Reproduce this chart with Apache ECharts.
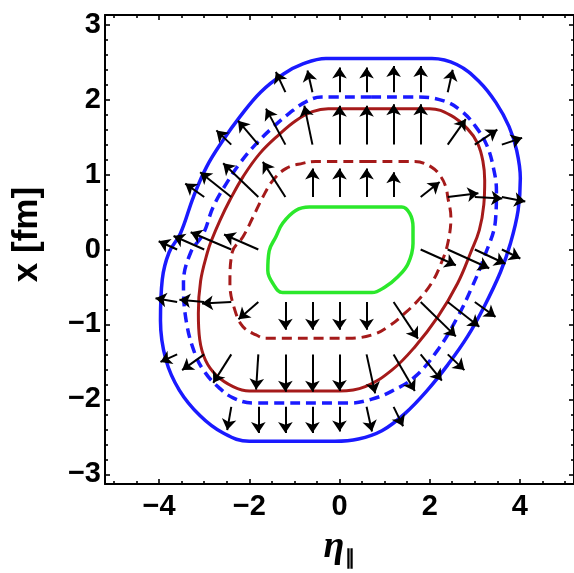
<!DOCTYPE html>
<html>
<head>
<meta charset="utf-8">
<script src="https://cdn.jsdelivr.net/npm/echarts@6/dist/echarts.min.js"></script>
<style>
  html, body { margin: 0; padding: 0; background: #ffffff; }
  #chart { width: 574px; height: 573px; }
</style>
</head>
<body>
<div id="chart"></div>
<script>
// Axis ranges and tick positions
const etaRange = [-5.2, 5.2];
const xRange = [-3.13, 3.13];
const etaMajorTicks = [-4, -2, 0, 2, 4];
const etaMinorTicks = [-5, -4.5, -3.5, -3, -2.5, -1.5, -1, -0.5, 0.5, 1, 1.5, 2.5, 3, 3.5, 4.5, 5];
const xMajorTicks = [-3, -2, -1, 0, 1, 2, 3];
const xMinorTicks = [-2.8, -2.6, -2.4, -2.2, -1.8, -1.6, -1.4, -1.2, -0.8, -0.6, -0.4, -0.2,
                     0.2, 0.4, 0.6, 0.8, 1.2, 1.4, 1.6, 1.8, 2.2, 2.4, 2.6, 2.8];

// Closed contours [eta, x], each starting and ending on its flat top edge
const blueSolid = [
  [0.90, 2.55], [2.05, 2.55], [2.60, 2.47], [3.10, 2.24],
  [3.47, 1.96], [3.76, 1.64], [3.93, 1.32], [4.01, 0.95], [3.96, 0.52],
  [3.79, 0.08], [3.57, -0.30], [3.21, -0.76], [2.84, -1.16], [2.40, -1.54], [1.96, -1.87],
  [1.45, -2.19], [0.94, -2.42], [0.42, -2.53], [-0.10, -2.56], [-2.00, -2.56], [-2.58, -2.45],
  [-3.09, -2.22], [-3.55, -1.88], [-3.85, -1.47], [-3.97, -0.95], [-3.93, -0.40], [-3.78, -0.04],
  [-3.53, 0.21], [-3.24, 0.70], [-2.95, 1.10], [-2.58, 1.46], [-2.21, 1.77], [-1.75, 2.10],
  [-1.25, 2.34], [-0.80, 2.48], [-0.30, 2.55], [0.90, 2.55]
];
const blueDashed = [
  [0.70, 2.035], [1.74, 2.035], [2.33, 1.98], [2.72, 1.84],
  [3.02, 1.64], [3.26, 1.40], [3.41, 1.10], [3.48, 0.78], [3.46, 0.40],
  [3.21, -0.10], [2.91, -0.54], [2.62, -0.90], [2.18, -1.34], [1.67, -1.70], [1.16, -1.89],
  [0.70, -2.00], [0.20, -2.05], [-1.90, -2.05], [-2.36, -1.98], [-2.68, -1.84],
  [-2.97, -1.65], [-3.20, -1.40], [-3.40, -0.95], [-3.46, -0.45], [-3.30, -0.04],
  [-3.02, 0.21], [-2.80, 0.57], [-2.51, 0.88], [-2.21, 1.15], [-1.85, 1.41], [-1.48, 1.63],
  [-1.11, 1.82], [-0.75, 1.97], [-0.40, 2.035], [0.70, 2.035]
];
const redSolid = [
  [0.90, 1.88], [2.00, 1.88], [2.47, 1.79], [2.84, 1.61],
  [3.06, 1.42], [3.18, 1.18], [3.22, 0.92], [3.20, 0.60], [3.10, 0.26], [2.91, -0.04],
  [2.62, -0.45], [2.18, -0.90], [1.67, -1.30], [1.16, -1.61], [0.57, -1.83], [0.00, -1.89],
  [-2.00, -1.89], [-2.36, -1.83], [-2.73, -1.68], [-2.97, -1.48], [-3.10, -1.20], [-3.13, -0.85],
  [-3.08, -0.42], [-2.93, -0.04], [-2.84, 0.12], [-2.65, 0.39], [-2.43, 0.66], [-2.14, 0.97],
  [-1.77, 1.28], [-1.33, 1.54], [-0.97, 1.72], [-0.60, 1.84], [-0.25, 1.88], [0.90, 1.88]
];
const redDashed = [
  [0.60, 1.175], [1.67, 1.175], [2.04, 1.10], [2.25, 0.97], [2.36, 0.83], [2.40, 0.70],
  [2.47, 0.43], [2.40, 0.08], [2.25, -0.19], [2.04, -0.45], [1.74, -0.68], [1.45, -0.85],
  [1.08, -1.03], [0.72, -1.14], [0.20, -1.185], [-1.63, -1.185], [-1.85, -1.14], [-2.14, -1.03],
  [-2.32, -0.81], [-2.43, -0.45], [-2.38, -0.04], [-2.14, 0.17], [-1.92, 0.43], [-1.70, 0.70],
  [-1.48, 0.92], [-1.19, 1.08], [-0.82, 1.15], [-0.53, 1.175], [0.60, 1.175]
];
const greenSolid = [
  [0.40, 0.567], [1.38, 0.567], [1.56, 0.48],
  [1.63, 0.30], [1.63, 0.08], [1.52, -0.19], [1.30, -0.36], [1.01, -0.50], [0.72, -0.575],
  [-1.26, -0.575], [-1.48, -0.45], [-1.59, -0.28], [-1.56, -0.02], [-1.41, 0.17],
  [-1.26, 0.35], [-0.97, 0.52], [-0.67, 0.567], [0.40, 0.567]
];

// Flow arrows: tails on the sampling grid, heads where the arrow ends
const arrowTail = [
  [-1.2, 2.1], [-0.6, 2.1], [0, 2.1], [0.6, 2.1], [1.2, 2.1], [1.8, 2.1], [2.4, 2.1],
  [-2.4, 1.4], [-1.8, 1.4], [-1.2, 1.4], [-0.6, 1.4], [0, 1.4], [0.6, 1.4], [1.2, 1.4], [1.8, 1.4], [2.4, 1.4], [3.0, 1.4], [3.6, 1.4],
  [-3.0, 0.7], [-2.4, 0.7], [-1.8, 0.7], [-1.2, 0.7], [-0.6, 0.7], [0, 0.7], [0.6, 0.7], [1.2, 0.7], [1.8, 0.7], [2.4, 0.7], [3.0, 0.7], [3.6, 0.7],
  [-3.6, 0], [-3.0, 0], [-2.4, 0], [-1.8, 0], [1.8, 0], [2.4, 0], [3.0, 0], [3.6, 0],
  [-3.6, -0.7], [-3.0, -0.7], [-2.4, -0.7], [-1.8, -0.7], [-1.2, -0.7], [-0.6, -0.7], [0, -0.7], [0.6, -0.7], [1.2, -0.7], [1.8, -0.7], [2.4, -0.7], [3.0, -0.7],
  [-3.6, -1.4], [-3.0, -1.4], [-2.4, -1.4], [-1.8, -1.4], [-1.2, -1.4], [-0.6, -1.4], [0, -1.4], [0.6, -1.4], [1.2, -1.4], [1.8, -1.4], [2.4, -1.4],
  [-2.4, -2.1], [-1.8, -2.1], [-1.2, -2.1], [-0.6, -2.1], [0, -2.1], [0.6, -2.1], [1.2, -2.1]
];
const arrowHead = [
  [-1.41, 2.37], [-0.71, 2.39], [0, 2.43], [0.6, 2.43], [1.2, 2.45], [1.8, 2.45], [2.51, 2.40],
  [-2.73, 1.59], [-2.25, 1.72], [-1.63, 1.88], [-0.78, 1.92], [0, 1.92], [0.6, 1.92], [1.2, 1.94], [1.8, 1.94], [2.80, 1.74], [3.50, 1.60], [4.05, 1.49],
  [-3.42, 0.88], [-3.09, 1.03], [-2.58, 1.15], [-1.70, 1.17], [-0.6, 1.08], [0, 1.08], [0.6, 1.08], [1.2, 1.03], [2.22, 0.90], [3.08, 0.75], [3.61, 0.68], [4.12, 0.64],
  [-4.01, 0.11], [-3.68, 0.18], [-3.30, 0.23], [-2.56, 0.20], [2.58, -0.21], [3.32, -0.25], [3.68, -0.19], [4.01, -0.12],
  [-4.08, -0.65], [-3.55, -0.67], [-3.05, -0.72], [-2.24, -0.93], [-1.2, -1.07], [-0.6, -1.07], [0, -1.07], [0.6, -1.07], [1.74, -1.19], [2.58, -1.16], [3.10, -1.03], [3.46, -0.90],
  [-3.97, -1.50], [-3.49, -1.61], [-2.80, -1.78], [-1.85, -1.87], [-1.2, -1.90], [-0.6, -1.90], [0, -1.89], [0.79, -1.92], [1.67, -1.89], [2.27, -1.75], [2.77, -1.61],
  [-2.49, -2.41], [-1.8, -2.45], [-1.2, -2.45], [-0.6, -2.45], [0, -2.43], [0.72, -2.43], [1.41, -2.36]
];

const BLUE = '#1a1aff';
const DARKRED = '#a51a1a';
const GREEN = '#2be82b';
const FONT = 'Liberation Sans, Arial, Helvetica, sans-serif';

const fmt = v => (v < 0 ? '\u2212' + Math.abs(v) : String(v));
const labelStyle = { color: '#000', fontFamily: FONT, fontWeight: 'bold', fontSize: 29 };

function xAxisDef(position, ticks, len, withLabels, showLine) {
  return {
    type: 'value', gridIndex: 0, position, min: etaRange[0], max: etaRange[1],
    axisLine: { show: showLine, onZero: false, lineStyle: { color: '#000', width: 2 } },
    axisTick: { show: true, inside: true, length: len, customValues: ticks, lineStyle: { color: '#000', width: 1.6 } },
    axisLabel: withLabels ? Object.assign({ show: true, customValues: ticks, formatter: fmt, margin: 8 }, labelStyle) : { show: false },
    splitLine: { show: false }
  };
}
function yAxisDef(position, ticks, len, withLabels, showLine) {
  return {
    type: 'value', gridIndex: 0, position, min: xRange[0], max: xRange[1],
    axisLine: { show: showLine, onZero: false, lineStyle: { color: '#000', width: 2 } },
    axisTick: { show: true, inside: true, length: len, customValues: ticks, lineStyle: { color: '#000', width: 1.6 } },
    axisLabel: withLabels ? Object.assign({ show: true, customValues: ticks, formatter: fmt, margin: 4 }, labelStyle) : { show: false },
    splitLine: { show: false }
  };
}

const xMain = xAxisDef('bottom', etaMajorTicks, 5, true, true);
xMain.name = '{eta|\u03b7}{sub|\u2225}';
xMain.nameLocation = 'middle';
xMain.nameGap = 44;
xMain.nameTextStyle = {
  rich: {
    eta: { fontFamily: 'Liberation Serif, DejaVu Serif, serif', fontStyle: 'italic', fontWeight: 'bold', fontSize: 38, color: '#000', verticalAlign: 'top', lineHeight: 40 },
    sub: { fontFamily: FONT, fontWeight: 'bold', fontSize: 20, color: '#000', verticalAlign: 'bottom', lineHeight: 40, padding: [0, 0, 0, 1] }
  }
};

const yMain = yAxisDef('left', xMajorTicks, 5, true, true);
yMain.name = 'x [fm]';
yMain.nameLocation = 'middle';
yMain.nameRotate = 90;
yMain.nameGap = 60;
yMain.nameTextStyle = { color: '#000', fontFamily: FONT, fontWeight: 'bold', fontSize: 35, padding: [0, 0, 0, 30] };

function contour(data, color, width, dashed) {
  return {
    type: 'line', xAxisIndex: 0, yAxisIndex: 0, data, smooth: 0.4, showSymbol: false, symbol: 'none',
    lineStyle: { color, width, type: dashed ? [10, 6] : 'solid', cap: 'butt' },
    silent: true, animation: false, z: 2
  };
}

const arrows = arrowTail.map((t, i) => ({ coords: [t, arrowHead[i]] }));

const option = {
  backgroundColor: '#ffffff',
  animation: false,
  grid: { left: 105, top: 15, width: 472, height: 469, containLabel: false },
  xAxis: [
    xMain,
    xAxisDef('bottom', etaMinorTicks, 3, false, false),
    xAxisDef('top', etaMajorTicks, 5, false, true),
    xAxisDef('top', etaMinorTicks, 3, false, false)
  ],
  yAxis: [
    yMain,
    yAxisDef('left', xMinorTicks, 3, false, false),
    yAxisDef('right', xMajorTicks, 5, false, true),
    yAxisDef('right', xMinorTicks, 3, false, false)
  ],
  series: [
    contour(blueSolid, BLUE, 3.5, false),
    contour(blueDashed, BLUE, 3.5, true),
    contour(redSolid, DARKRED, 3, false),
    contour(redDashed, DARKRED, 3, true),
    contour(greenSolid, GREEN, 3.5, false),
    {
      type: 'lines', coordinateSystem: 'cartesian2d', xAxisIndex: 0, yAxisIndex: 0,
      data: arrows, symbol: ['none', 'arrow'], symbolSize: 11,
      lineStyle: { color: '#000', width: 2, opacity: 1, curveness: 0 },
      itemStyle: { color: '#000' },
      silent: true, animation: false, z: 5
    }
  ]
};

const chart = echarts.init(document.getElementById('chart'), null, { renderer: 'canvas' });
chart.setOption(option);
</script>
</body>
</html>
